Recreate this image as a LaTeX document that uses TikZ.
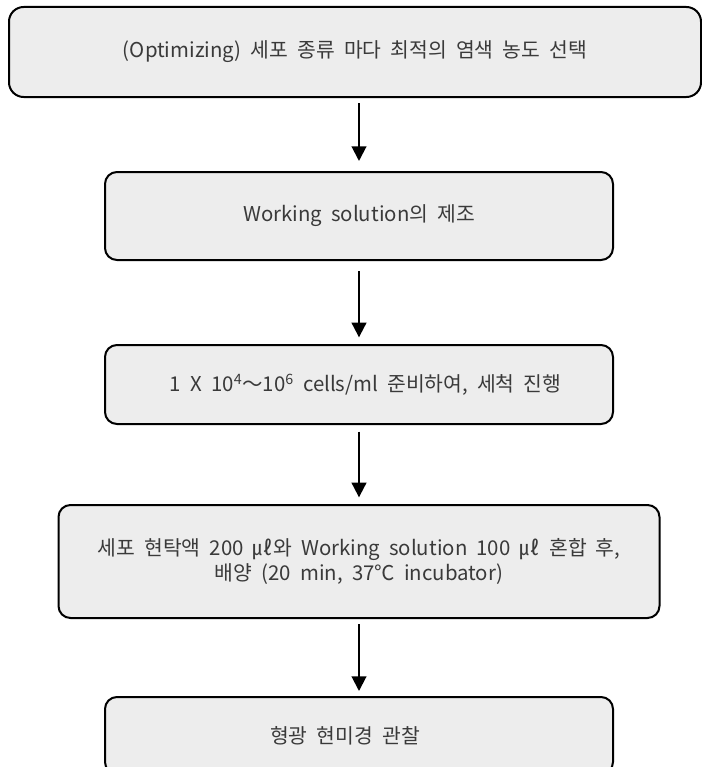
\documentclass[tikz,border=0pt]{standalone}
\usepackage{fontspec}
\setmainfont{Noto Sans CJK KR}[WordSpace=2]
\usepackage{tikz}
\usetikzlibrary{arrows.meta,positioning}
\definecolor{fundo}{HTML}{EDEDED}
\definecolor{texto}{HTML}{3A3A3A}

\begin{document}
\begin{tikzpicture}[
node distance=55pt,
bloco/.style={
rectangle,
rounded corners=9pt,
draw,
line width=1.5pt,
fill=fundo,
text=texto,
align=center,
minimum width=381pt,
font=\fontsize{15.3pt}{18.75pt}\selectfont
},
flecha/.style={-{Triangle[length=11pt,width=11pt]}, line width=1.5pt, shorten <=5pt, shorten >=5pt}
]
\useasboundingbox (0,0) rectangle (526.5pt,-575.25pt);

\node[bloco, minimum width=519pt, minimum height=67.5pt, rounded corners=11pt] (otim) at (266.25pt,-39pt) {(Optimizing) 세포 종류 마다 최적의 염색 농도 선택};

\node[bloco, minimum height=66pt, below=54.75pt of otim, xshift=3pt] (solucao) {Working solution의 제조};

\node[bloco, minimum height=59.25pt, below=62.25pt of solucao] (celulas) {\hspace*{10pt}1 X 10\textsuperscript{4}～10\textsuperscript{6} cells/ml 준비하여, 세척 진행};

\node[bloco, minimum width=450.75pt, minimum height=84.75pt, below=59.25pt of celulas] (mistura) {세포 현탁액 200 ㎕와 Working solution 100 ㎕ 혼합 후,\\ 배양 (20 min, 37℃ incubator)};

\node[bloco, minimum height=57.75pt, below=57.75pt of mistura] (obs) {형광 현미경 관찰\hspace*{21pt}};

\draw[flecha, shorten <=3.75pt, shorten >=7.5pt] (otim.south -| solucao.north) -- (solucao.north);
\draw[flecha, shorten <=7.5pt] (solucao) -- (celulas);
\draw[flecha] (celulas) -- (mistura);
\draw[flecha, shorten <=3.75pt, shorten >=3.75pt] (mistura) -- (obs);

\end{tikzpicture}
\end{document}
